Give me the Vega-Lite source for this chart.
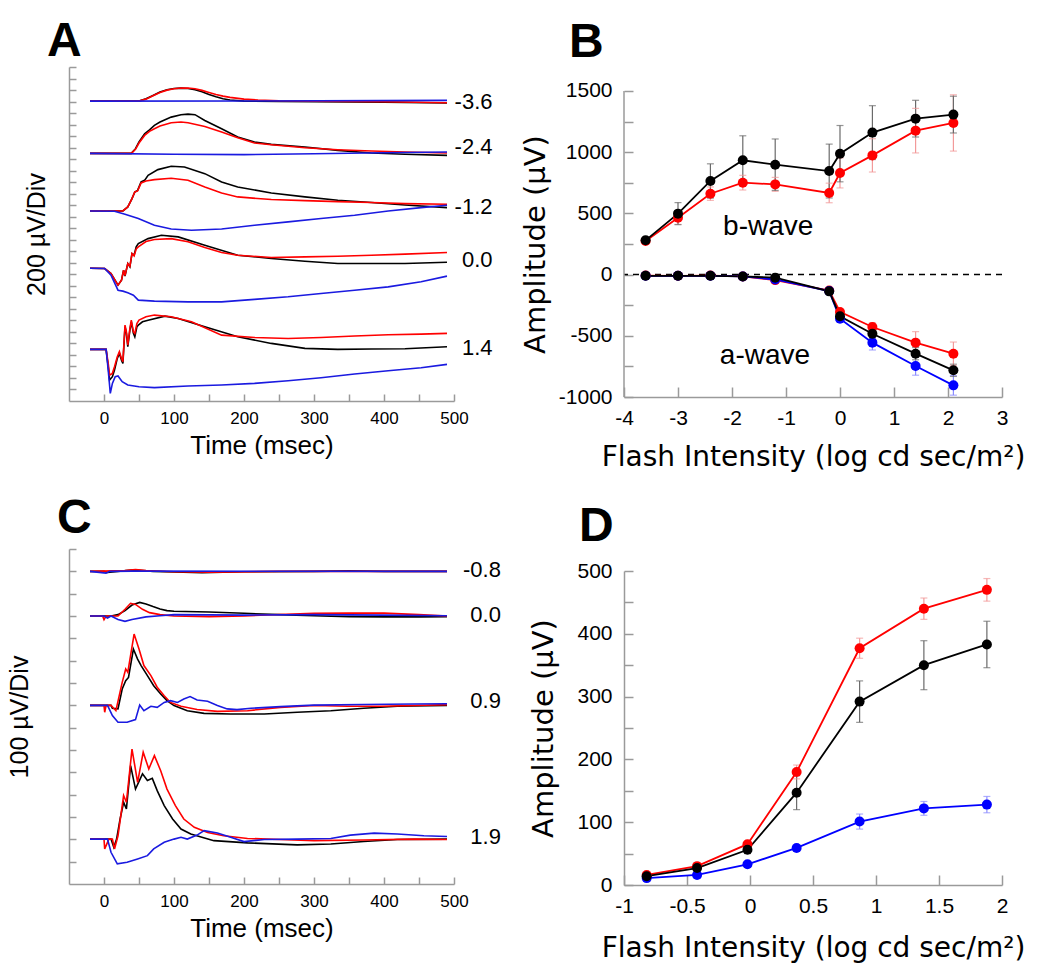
{
"$schema": "https://vega.github.io/schema/vega-lite/v6.json",
"padding": {"left": 7, "top": 18, "right": 5, "bottom": 5},
"background": "white",
"config": {
  "view": {"stroke": null},
  "font": "Liberation Sans",
  "axis": {"grid": false, "domainColor": "#9a9a9a", "tickColor": "#9a9a9a", "domainWidth": 1.5, "tickWidth": 1.5, "labelColor": "#000", "titleColor": "#000", "titleFontWeight": "normal", "labelFont": "Liberation Sans", "titleFont": "Liberation Sans", "labelFlush": false, "labelOverlap": false, "tickCount": 100},
  "title": {"font": "Liberation Sans", "fontWeight": "bold", "fontSize": 48, "anchor": "start", "frame": "group", "baseline": "alphabetic", "color": "#000"}
},
"datasets": {
  "traceA": [
{"i":"-3.6","s":"black","t":-20,"v":26.04},{"i":"-3.6","s":"black","t":50,"v":26.04},{"i":"-3.6","s":"black","t":60,"v":26.24},{"i":"-3.6","s":"black","t":70,"v":26.53},{"i":"-3.6","s":"black","t":80,"v":26.82},{"i":"-3.6","s":"black","t":90,"v":27.02},{"i":"-3.6","s":"black","t":100,"v":27.14},{"i":"-3.6","s":"black","t":110,"v":27.17},{"i":"-3.6","s":"black","t":120,"v":27.14},{"i":"-3.6","s":"black","t":130,"v":27.02},{"i":"-3.6","s":"black","t":140,"v":26.85},{"i":"-3.6","s":"black","t":150,"v":26.62},{"i":"-3.6","s":"black","t":160,"v":26.42},{"i":"-3.6","s":"black","t":170,"v":26.24},{"i":"-3.6","s":"black","t":180,"v":26.13},{"i":"-3.6","s":"black","t":200,"v":26.04},{"i":"-3.6","s":"black","t":250,"v":26.01},{"i":"-3.6","s":"black","t":300,"v":25.98},{"i":"-3.6","s":"black","t":400,"v":25.95},{"i":"-3.6","s":"black","t":490,"v":25.87},
{"i":"-3.6","s":"red","t":-20,"v":26.04},{"i":"-3.6","s":"red","t":50,"v":26.04},{"i":"-3.6","s":"red","t":60,"v":26.21},{"i":"-3.6","s":"red","t":70,"v":26.5},{"i":"-3.6","s":"red","t":80,"v":26.79},{"i":"-3.6","s":"red","t":90,"v":26.99},{"i":"-3.6","s":"red","t":100,"v":27.11},{"i":"-3.6","s":"red","t":110,"v":27.17},{"i":"-3.6","s":"red","t":120,"v":27.17},{"i":"-3.6","s":"red","t":130,"v":27.11},{"i":"-3.6","s":"red","t":140,"v":26.97},{"i":"-3.6","s":"red","t":150,"v":26.79},{"i":"-3.6","s":"red","t":160,"v":26.62},{"i":"-3.6","s":"red","t":170,"v":26.47},{"i":"-3.6","s":"red","t":180,"v":26.36},{"i":"-3.6","s":"red","t":200,"v":26.21},{"i":"-3.6","s":"red","t":220,"v":26.13},{"i":"-3.6","s":"red","t":250,"v":26.07},{"i":"-3.6","s":"red","t":300,"v":26.04},{"i":"-3.6","s":"red","t":400,"v":25.98},{"i":"-3.6","s":"red","t":490,"v":25.9},
{"i":"-3.6","s":"blue","t":-20,"v":26.04},{"i":"-3.6","s":"blue","t":200,"v":26.05},{"i":"-3.6","s":"blue","t":490,"v":26.1},
{"i":"-2.4","s":"black","t":-20,"v":21.5},{"i":"-2.4","s":"black","t":39,"v":21.5},{"i":"-2.4","s":"black","t":45,"v":21.91},{"i":"-2.4","s":"black","t":50,"v":22.49},{"i":"-2.4","s":"black","t":58,"v":23.21},{"i":"-2.4","s":"black","t":65,"v":23.55},{"i":"-2.4","s":"black","t":72,"v":23.93},{"i":"-2.4","s":"black","t":80,"v":24.22},{"i":"-2.4","s":"black","t":96,"v":24.65},{"i":"-2.4","s":"black","t":110,"v":24.86},{"i":"-2.4","s":"black","t":120,"v":24.91},{"i":"-2.4","s":"black","t":130,"v":24.86},{"i":"-2.4","s":"black","t":144,"v":24.36},{"i":"-2.4","s":"black","t":168,"v":23.64},{"i":"-2.4","s":"black","t":191,"v":22.92},{"i":"-2.4","s":"black","t":215,"v":22.49},{"i":"-2.4","s":"black","t":239,"v":22.28},{"i":"-2.4","s":"black","t":287,"v":22.05},{"i":"-2.4","s":"black","t":334,"v":21.76},{"i":"-2.4","s":"black","t":382,"v":21.53},{"i":"-2.4","s":"black","t":430,"v":21.42},{"i":"-2.4","s":"black","t":490,"v":21.33},
{"i":"-2.4","s":"red","t":-20,"v":21.5},{"i":"-2.4","s":"red","t":39,"v":21.5},{"i":"-2.4","s":"red","t":45,"v":21.85},{"i":"-2.4","s":"red","t":50,"v":22.4},{"i":"-2.4","s":"red","t":58,"v":23.06},{"i":"-2.4","s":"red","t":65,"v":23.41},{"i":"-2.4","s":"red","t":72,"v":23.64},{"i":"-2.4","s":"red","t":80,"v":23.87},{"i":"-2.4","s":"red","t":96,"v":24.16},{"i":"-2.4","s":"red","t":110,"v":24.22},{"i":"-2.4","s":"red","t":120,"v":24.16},{"i":"-2.4","s":"red","t":144,"v":23.84},{"i":"-2.4","s":"red","t":168,"v":23.35},{"i":"-2.4","s":"red","t":191,"v":22.86},{"i":"-2.4","s":"red","t":215,"v":22.4},{"i":"-2.4","s":"red","t":239,"v":22.25},{"i":"-2.4","s":"red","t":287,"v":21.99},{"i":"-2.4","s":"red","t":334,"v":21.82},{"i":"-2.4","s":"red","t":382,"v":21.71},{"i":"-2.4","s":"red","t":430,"v":21.62},{"i":"-2.4","s":"red","t":490,"v":21.53},
{"i":"-2.4","s":"blue","t":-20,"v":21.5},{"i":"-2.4","s":"blue","t":100,"v":21.42},{"i":"-2.4","s":"blue","t":200,"v":21.39},{"i":"-2.4","s":"blue","t":300,"v":21.47},{"i":"-2.4","s":"blue","t":400,"v":21.56},{"i":"-2.4","s":"blue","t":490,"v":21.62},
{"i":"-1.2","s":"black","t":-20,"v":16.5},{"i":"-1.2","s":"black","t":27,"v":16.5},{"i":"-1.2","s":"black","t":34,"v":16.85},{"i":"-1.2","s":"black","t":40,"v":17.57},{"i":"-1.2","s":"black","t":44,"v":18.15},{"i":"-1.2","s":"black","t":48,"v":18.29},{"i":"-1.2","s":"black","t":53,"v":19.02},{"i":"-1.2","s":"black","t":58,"v":19.16},{"i":"-1.2","s":"black","t":63,"v":19.6},{"i":"-1.2","s":"black","t":77,"v":20.09},{"i":"-1.2","s":"black","t":96,"v":20.38},{"i":"-1.2","s":"black","t":115,"v":20.32},{"i":"-1.2","s":"black","t":144,"v":19.74},{"i":"-1.2","s":"black","t":168,"v":19.02},{"i":"-1.2","s":"black","t":191,"v":18.58},{"i":"-1.2","s":"black","t":239,"v":18.06},{"i":"-1.2","s":"black","t":287,"v":17.72},{"i":"-1.2","s":"black","t":334,"v":17.43},{"i":"-1.2","s":"black","t":382,"v":17.23},{"i":"-1.2","s":"black","t":430,"v":17.02},{"i":"-1.2","s":"black","t":490,"v":16.79},
{"i":"-1.2","s":"red","t":-20,"v":16.5},{"i":"-1.2","s":"red","t":27,"v":16.5},{"i":"-1.2","s":"red","t":34,"v":16.85},{"i":"-1.2","s":"red","t":40,"v":17.57},{"i":"-1.2","s":"red","t":44,"v":18.15},{"i":"-1.2","s":"red","t":48,"v":18.24},{"i":"-1.2","s":"red","t":53,"v":18.93},{"i":"-1.2","s":"red","t":60,"v":19.1},{"i":"-1.2","s":"red","t":72,"v":19.22},{"i":"-1.2","s":"red","t":96,"v":19.34},{"i":"-1.2","s":"red","t":120,"v":19.16},{"i":"-1.2","s":"red","t":144,"v":18.58},{"i":"-1.2","s":"red","t":168,"v":18.06},{"i":"-1.2","s":"red","t":191,"v":17.72},{"i":"-1.2","s":"red","t":239,"v":17.49},{"i":"-1.2","s":"red","t":287,"v":17.4},{"i":"-1.2","s":"red","t":334,"v":17.31},{"i":"-1.2","s":"red","t":382,"v":17.23},{"i":"-1.2","s":"red","t":430,"v":17.14},{"i":"-1.2","s":"red","t":490,"v":17.08},
{"i":"-1.2","s":"blue","t":-20,"v":16.5},{"i":"-1.2","s":"blue","t":15,"v":16.47},{"i":"-1.2","s":"blue","t":30,"v":16.21},{"i":"-1.2","s":"blue","t":49,"v":15.84},{"i":"-1.2","s":"blue","t":72,"v":15.26},{"i":"-1.2","s":"blue","t":96,"v":14.94},{"i":"-1.2","s":"blue","t":125,"v":14.83},{"i":"-1.2","s":"blue","t":168,"v":14.94},{"i":"-1.2","s":"blue","t":215,"v":15.26},{"i":"-1.2","s":"blue","t":263,"v":15.55},{"i":"-1.2","s":"blue","t":310,"v":15.84},{"i":"-1.2","s":"blue","t":358,"v":16.13},{"i":"-1.2","s":"blue","t":406,"v":16.5},{"i":"-1.2","s":"blue","t":453,"v":16.79},{"i":"-1.2","s":"blue","t":490,"v":16.99},
{"i":"0.0","s":"black","t":-20,"v":11.53},{"i":"0.0","s":"black","t":1,"v":11.5},{"i":"0.0","s":"black","t":10,"v":11.07},{"i":"0.0","s":"black","t":20,"v":10.06},{"i":"0.0","s":"black","t":25,"v":10.49},{"i":"0.0","s":"black","t":28,"v":11.36},{"i":"0.0","s":"black","t":30,"v":10.84},{"i":"0.0","s":"black","t":34,"v":11.94},{"i":"0.0","s":"black","t":37,"v":11.65},{"i":"0.0","s":"black","t":40,"v":12.8},{"i":"0.0","s":"black","t":43,"v":12.66},{"i":"0.0","s":"black","t":46,"v":13.38},{"i":"0.0","s":"black","t":49,"v":13.67},{"i":"0.0","s":"black","t":63,"v":14.1},{"i":"0.0","s":"black","t":82,"v":14.39},{"i":"0.0","s":"black","t":106,"v":14.25},{"i":"0.0","s":"black","t":144,"v":13.53},{"i":"0.0","s":"black","t":191,"v":12.66},{"i":"0.0","s":"black","t":239,"v":12.37},{"i":"0.0","s":"black","t":287,"v":12.14},{"i":"0.0","s":"black","t":334,"v":11.94},{"i":"0.0","s":"black","t":382,"v":11.94},{"i":"0.0","s":"black","t":430,"v":11.94},{"i":"0.0","s":"black","t":490,"v":12.05},
{"i":"0.0","s":"red","t":-20,"v":11.53},{"i":"0.0","s":"red","t":1,"v":11.5},{"i":"0.0","s":"red","t":10,"v":11.07},{"i":"0.0","s":"red","t":20,"v":10.06},{"i":"0.0","s":"red","t":25,"v":10.49},{"i":"0.0","s":"red","t":28,"v":11.36},{"i":"0.0","s":"red","t":30,"v":10.9},{"i":"0.0","s":"red","t":34,"v":11.94},{"i":"0.0","s":"red","t":37,"v":11.7},{"i":"0.0","s":"red","t":40,"v":12.8},{"i":"0.0","s":"red","t":43,"v":12.6},{"i":"0.0","s":"red","t":46,"v":13.2},{"i":"0.0","s":"red","t":49,"v":13.38},{"i":"0.0","s":"red","t":60,"v":13.85},{"i":"0.0","s":"red","t":72,"v":14.02},{"i":"0.0","s":"red","t":96,"v":14.1},{"i":"0.0","s":"red","t":120,"v":13.82},{"i":"0.0","s":"red","t":144,"v":13.32},{"i":"0.0","s":"red","t":168,"v":12.89},{"i":"0.0","s":"red","t":191,"v":12.66},{"i":"0.0","s":"red","t":239,"v":12.46},{"i":"0.0","s":"red","t":287,"v":12.51},{"i":"0.0","s":"red","t":334,"v":12.57},{"i":"0.0","s":"red","t":382,"v":12.66},{"i":"0.0","s":"red","t":430,"v":12.75},{"i":"0.0","s":"red","t":490,"v":12.89},
{"i":"0.0","s":"blue","t":-20,"v":11.53},{"i":"0.0","s":"blue","t":1,"v":11.5},{"i":"0.0","s":"blue","t":10,"v":10.92},{"i":"0.0","s":"blue","t":20,"v":9.62},{"i":"0.0","s":"blue","t":27,"v":9.54},{"i":"0.0","s":"blue","t":34,"v":9.39},{"i":"0.0","s":"blue","t":42,"v":9.19},{"i":"0.0","s":"blue","t":49,"v":8.76},{"i":"0.0","s":"blue","t":72,"v":8.67},{"i":"0.0","s":"blue","t":120,"v":8.61},{"i":"0.0","s":"blue","t":168,"v":8.61},{"i":"0.0","s":"blue","t":215,"v":8.82},{"i":"0.0","s":"blue","t":263,"v":9.05},{"i":"0.0","s":"blue","t":310,"v":9.34},{"i":"0.0","s":"blue","t":358,"v":9.62},{"i":"0.0","s":"blue","t":406,"v":9.91},{"i":"0.0","s":"blue","t":453,"v":10.35},{"i":"0.0","s":"blue","t":490,"v":10.84},
{"i":"1.4","s":"black","t":-20,"v":4.48},{"i":"1.4","s":"black","t":3,"v":4.48},{"i":"1.4","s":"black","t":6,"v":2.98},{"i":"1.4","s":"black","t":8,"v":1.82},{"i":"1.4","s":"black","t":12,"v":2.11},{"i":"1.4","s":"black","t":15,"v":2.69},{"i":"1.4","s":"black","t":19,"v":3.7},{"i":"1.4","s":"black","t":22,"v":4.13},{"i":"1.4","s":"black","t":25,"v":3.55},{"i":"1.4","s":"black","t":27,"v":3.27},{"i":"1.4","s":"black","t":30,"v":6.45},{"i":"1.4","s":"black","t":32,"v":5.87},{"i":"1.4","s":"black","t":34,"v":4.71},{"i":"1.4","s":"black","t":37,"v":6.16},{"i":"1.4","s":"black","t":39,"v":6.88},{"i":"1.4","s":"black","t":42,"v":5.87},{"i":"1.4","s":"black","t":44,"v":5.58},{"i":"1.4","s":"black","t":47,"v":6.45},{"i":"1.4","s":"black","t":49,"v":6.59},{"i":"1.4","s":"black","t":55,"v":6.88},{"i":"1.4","s":"black","t":63,"v":7.02},{"i":"1.4","s":"black","t":87,"v":7.37},{"i":"1.4","s":"black","t":106,"v":7.17},{"i":"1.4","s":"black","t":144,"v":6.45},{"i":"1.4","s":"black","t":191,"v":5.58},{"i":"1.4","s":"black","t":239,"v":5.0},{"i":"1.4","s":"black","t":287,"v":4.57},{"i":"1.4","s":"black","t":334,"v":4.48},{"i":"1.4","s":"black","t":382,"v":4.51},{"i":"1.4","s":"black","t":430,"v":4.54},{"i":"1.4","s":"black","t":490,"v":4.71},
{"i":"1.4","s":"red","t":-20,"v":4.48},{"i":"1.4","s":"red","t":3,"v":4.48},{"i":"1.4","s":"red","t":6,"v":3.27},{"i":"1.4","s":"red","t":8,"v":2.25},{"i":"1.4","s":"red","t":12,"v":2.4},{"i":"1.4","s":"red","t":15,"v":2.98},{"i":"1.4","s":"red","t":19,"v":3.84},{"i":"1.4","s":"red","t":22,"v":4.28},{"i":"1.4","s":"red","t":25,"v":3.7},{"i":"1.4","s":"red","t":27,"v":3.41},{"i":"1.4","s":"red","t":30,"v":6.59},{"i":"1.4","s":"red","t":32,"v":6.01},{"i":"1.4","s":"red","t":34,"v":4.86},{"i":"1.4","s":"red","t":37,"v":6.3},{"i":"1.4","s":"red","t":39,"v":7.02},{"i":"1.4","s":"red","t":42,"v":6.01},{"i":"1.4","s":"red","t":44,"v":5.87},{"i":"1.4","s":"red","t":47,"v":6.73},{"i":"1.4","s":"red","t":50,"v":7.02},{"i":"1.4","s":"red","t":60,"v":7.31},{"i":"1.4","s":"red","t":72,"v":7.46},{"i":"1.4","s":"red","t":96,"v":7.31},{"i":"1.4","s":"red","t":125,"v":6.88},{"i":"1.4","s":"red","t":168,"v":5.72},{"i":"1.4","s":"red","t":215,"v":5.52},{"i":"1.4","s":"red","t":263,"v":5.43},{"i":"1.4","s":"red","t":310,"v":5.52},{"i":"1.4","s":"red","t":358,"v":5.64},{"i":"1.4","s":"red","t":406,"v":5.75},{"i":"1.4","s":"red","t":453,"v":5.81},{"i":"1.4","s":"red","t":490,"v":5.87},
{"i":"1.4","s":"blue","t":-20,"v":4.48},{"i":"1.4","s":"blue","t":3,"v":4.48},{"i":"1.4","s":"blue","t":6,"v":2.69},{"i":"1.4","s":"blue","t":9,"v":0.66},{"i":"1.4","s":"blue","t":12,"v":1.53},{"i":"1.4","s":"blue","t":16,"v":2.11},{"i":"1.4","s":"blue","t":20,"v":2.17},{"i":"1.4","s":"blue","t":26,"v":1.68},{"i":"1.4","s":"blue","t":34,"v":1.39},{"i":"1.4","s":"blue","t":50,"v":1.24},{"i":"1.4","s":"blue","t":72,"v":1.16},{"i":"1.4","s":"blue","t":120,"v":1.3},{"i":"1.4","s":"blue","t":168,"v":1.39},{"i":"1.4","s":"blue","t":215,"v":1.53},{"i":"1.4","s":"blue","t":263,"v":1.76},{"i":"1.4","s":"blue","t":310,"v":2.02},{"i":"1.4","s":"blue","t":358,"v":2.34},{"i":"1.4","s":"blue","t":406,"v":2.63},{"i":"1.4","s":"blue","t":453,"v":2.89},{"i":"1.4","s":"blue","t":490,"v":3.18}
  ],
  "labA": [
{"i":"-3.6","t":555,"v":25.95},{"i":"-2.4","t":555,"v":22.05},{"i":"-1.2","t":555,"v":16.85},{"i":"0.0","t":555,"v":12.28},{"i":"1.4","t":555,"v":4.62}
  ],
  "traceC": [
{"i":"-0.8","s":"black","t":-20,"v":14.0},{"i":"-0.8","s":"black","t":0,"v":14.0},{"i":"-0.8","s":"black","t":5,"v":13.95},{"i":"-0.8","s":"black","t":20,"v":14.0},{"i":"-0.8","s":"black","t":40,"v":14.06},{"i":"-0.8","s":"black","t":50,"v":14.05},{"i":"-0.8","s":"black","t":70,"v":14.0},{"i":"-0.8","s":"black","t":100,"v":13.97},{"i":"-0.8","s":"black","t":140,"v":13.94},{"i":"-0.8","s":"black","t":200,"v":13.98},{"i":"-0.8","s":"black","t":300,"v":14.0},{"i":"-0.8","s":"black","t":350,"v":14.02},{"i":"-0.8","s":"black","t":400,"v":14.0},{"i":"-0.8","s":"black","t":490,"v":14.0},
{"i":"-0.8","s":"red","t":-20,"v":14.0},{"i":"-0.8","s":"red","t":30,"v":14.03},{"i":"-0.8","s":"red","t":45,"v":14.08},{"i":"-0.8","s":"red","t":60,"v":14.03},{"i":"-0.8","s":"red","t":100,"v":13.98},{"i":"-0.8","s":"red","t":150,"v":13.96},{"i":"-0.8","s":"red","t":250,"v":14.0},{"i":"-0.8","s":"red","t":490,"v":14.0},
{"i":"-0.8","s":"blue","t":-20,"v":14.0},{"i":"-0.8","s":"blue","t":3,"v":13.92},{"i":"-0.8","s":"blue","t":8,"v":14.0},{"i":"-0.8","s":"blue","t":40,"v":14.01},{"i":"-0.8","s":"blue","t":490,"v":14.0},
{"i":"0.0","s":"black","t":-20,"v":12.0},{"i":"0.0","s":"black","t":10,"v":12.0},{"i":"0.0","s":"black","t":20,"v":12.06},{"i":"0.0","s":"black","t":30,"v":12.24},{"i":"0.0","s":"black","t":40,"v":12.49},{"i":"0.0","s":"black","t":51,"v":12.61},{"i":"0.0","s":"black","t":60,"v":12.54},{"i":"0.0","s":"black","t":70,"v":12.42},{"i":"0.0","s":"black","t":80,"v":12.31},{"i":"0.0","s":"black","t":90,"v":12.24},{"i":"0.0","s":"black","t":100,"v":12.21},{"i":"0.0","s":"black","t":150,"v":12.18},{"i":"0.0","s":"black","t":200,"v":12.12},{"i":"0.0","s":"black","t":250,"v":12.06},{"i":"0.0","s":"black","t":300,"v":12.01},{"i":"0.0","s":"black","t":350,"v":11.97},{"i":"0.0","s":"black","t":400,"v":11.96},{"i":"0.0","s":"black","t":450,"v":11.96},{"i":"0.0","s":"black","t":490,"v":11.97},
{"i":"0.0","s":"red","t":-20,"v":12.0},{"i":"0.0","s":"red","t":-2,"v":12.0},{"i":"0.0","s":"red","t":0,"v":11.84},{"i":"0.0","s":"red","t":3,"v":12.0},{"i":"0.0","s":"red","t":20,"v":12.0},{"i":"0.0","s":"red","t":30,"v":12.3},{"i":"0.0","s":"red","t":38,"v":12.57},{"i":"0.0","s":"red","t":45,"v":12.52},{"i":"0.0","s":"red","t":55,"v":12.3},{"i":"0.0","s":"red","t":65,"v":12.15},{"i":"0.0","s":"red","t":80,"v":12.06},{"i":"0.0","s":"red","t":100,"v":12.0},{"i":"0.0","s":"red","t":150,"v":11.97},{"i":"0.0","s":"red","t":200,"v":12.0},{"i":"0.0","s":"red","t":250,"v":12.07},{"i":"0.0","s":"red","t":300,"v":12.12},{"i":"0.0","s":"red","t":350,"v":12.13},{"i":"0.0","s":"red","t":400,"v":12.13},{"i":"0.0","s":"red","t":450,"v":12.06},{"i":"0.0","s":"red","t":490,"v":12.0},
{"i":"0.0","s":"blue","t":-20,"v":12.0},{"i":"0.0","s":"blue","t":0,"v":12.0},{"i":"0.0","s":"blue","t":5,"v":11.91},{"i":"0.0","s":"blue","t":10,"v":12.0},{"i":"0.0","s":"blue","t":20,"v":11.84},{"i":"0.0","s":"blue","t":30,"v":11.76},{"i":"0.0","s":"blue","t":40,"v":11.84},{"i":"0.0","s":"blue","t":60,"v":11.96},{"i":"0.0","s":"blue","t":80,"v":12.01},{"i":"0.0","s":"blue","t":100,"v":12.06},{"i":"0.0","s":"blue","t":200,"v":12.04},{"i":"0.0","s":"blue","t":300,"v":12.06},{"i":"0.0","s":"blue","t":400,"v":12.04},{"i":"0.0","s":"blue","t":490,"v":12.01},
{"i":"0.9","s":"black","t":-20,"v":8.0},{"i":"0.9","s":"black","t":10,"v":8.0},{"i":"0.9","s":"black","t":12,"v":7.87},{"i":"0.9","s":"black","t":20,"v":7.84},{"i":"0.9","s":"black","t":26,"v":8.73},{"i":"0.9","s":"black","t":31,"v":9.1},{"i":"0.9","s":"black","t":35,"v":9.25},{"i":"0.9","s":"black","t":42,"v":10.52},{"i":"0.9","s":"black","t":48,"v":10.07},{"i":"0.9","s":"black","t":53,"v":9.78},{"i":"0.9","s":"black","t":62,"v":9.33},{"i":"0.9","s":"black","t":71,"v":8.88},{"i":"0.9","s":"black","t":81,"v":8.51},{"i":"0.9","s":"black","t":90,"v":8.21},{"i":"0.9","s":"black","t":100,"v":7.99},{"i":"0.9","s":"black","t":119,"v":7.76},{"i":"0.9","s":"black","t":143,"v":7.64},{"i":"0.9","s":"black","t":181,"v":7.61},{"i":"0.9","s":"black","t":229,"v":7.61},{"i":"0.9","s":"black","t":276,"v":7.69},{"i":"0.9","s":"black","t":324,"v":7.76},{"i":"0.9","s":"black","t":371,"v":7.87},{"i":"0.9","s":"black","t":419,"v":7.96},{"i":"0.9","s":"black","t":490,"v":7.99},
{"i":"0.9","s":"red","t":-20,"v":8.0},{"i":"0.9","s":"red","t":0,"v":8.0},{"i":"0.9","s":"red","t":1,"v":7.69},{"i":"0.9","s":"red","t":3,"v":8.0},{"i":"0.9","s":"red","t":10,"v":8.0},{"i":"0.9","s":"red","t":17,"v":7.76},{"i":"0.9","s":"red","t":26,"v":9.03},{"i":"0.9","s":"red","t":31,"v":9.63},{"i":"0.9","s":"red","t":34,"v":9.48},{"i":"0.9","s":"red","t":43,"v":11.19},{"i":"0.9","s":"red","t":50,"v":10.52},{"i":"0.9","s":"red","t":57,"v":9.78},{"i":"0.9","s":"red","t":67,"v":9.33},{"i":"0.9","s":"red","t":76,"v":8.81},{"i":"0.9","s":"red","t":86,"v":8.43},{"i":"0.9","s":"red","t":95,"v":8.13},{"i":"0.9","s":"red","t":110,"v":7.96},{"i":"0.9","s":"red","t":133,"v":7.81},{"i":"0.9","s":"red","t":162,"v":7.73},{"i":"0.9","s":"red","t":205,"v":7.76},{"i":"0.9","s":"red","t":252,"v":7.91},{"i":"0.9","s":"red","t":300,"v":7.99},{"i":"0.9","s":"red","t":348,"v":7.96},{"i":"0.9","s":"red","t":395,"v":7.96},{"i":"0.9","s":"red","t":443,"v":7.99},{"i":"0.9","s":"red","t":490,"v":8.03},
{"i":"0.9","s":"blue","t":-20,"v":8.0},{"i":"0.9","s":"blue","t":5,"v":8.0},{"i":"0.9","s":"blue","t":12,"v":7.54},{"i":"0.9","s":"blue","t":20,"v":7.24},{"i":"0.9","s":"blue","t":33,"v":7.24},{"i":"0.9","s":"blue","t":45,"v":7.36},{"i":"0.9","s":"blue","t":51,"v":8.01},{"i":"0.9","s":"blue","t":57,"v":7.76},{"i":"0.9","s":"blue","t":67,"v":7.96},{"i":"0.9","s":"blue","t":76,"v":7.91},{"i":"0.9","s":"blue","t":86,"v":8.13},{"i":"0.9","s":"blue","t":95,"v":8.21},{"i":"0.9","s":"blue","t":105,"v":8.13},{"i":"0.9","s":"blue","t":114,"v":8.28},{"i":"0.9","s":"blue","t":123,"v":8.39},{"i":"0.9","s":"blue","t":133,"v":8.24},{"i":"0.9","s":"blue","t":148,"v":8.18},{"i":"0.9","s":"blue","t":162,"v":7.99},{"i":"0.9","s":"blue","t":176,"v":7.84},{"i":"0.9","s":"blue","t":190,"v":7.81},{"i":"0.9","s":"blue","t":210,"v":7.87},{"i":"0.9","s":"blue","t":252,"v":7.94},{"i":"0.9","s":"blue","t":300,"v":8.01},{"i":"0.9","s":"blue","t":371,"v":8.04},{"i":"0.9","s":"blue","t":443,"v":8.06},{"i":"0.9","s":"blue","t":490,"v":8.07},
{"i":"1.9","s":"black","t":-20,"v":2.01},{"i":"1.9","s":"black","t":10,"v":2.01},{"i":"1.9","s":"black","t":14,"v":1.64},{"i":"1.9","s":"black","t":18,"v":2.01},{"i":"1.9","s":"black","t":23,"v":2.91},{"i":"1.9","s":"black","t":28,"v":3.66},{"i":"1.9","s":"black","t":32,"v":3.36},{"i":"1.9","s":"black","t":38,"v":5.3},{"i":"1.9","s":"black","t":45,"v":4.25},{"i":"1.9","s":"black","t":55,"v":4.93},{"i":"1.9","s":"black","t":62,"v":4.63},{"i":"1.9","s":"black","t":69,"v":4.73},{"i":"1.9","s":"black","t":76,"v":4.18},{"i":"1.9","s":"black","t":86,"v":3.51},{"i":"1.9","s":"black","t":98,"v":2.91},{"i":"1.9","s":"black","t":110,"v":2.46},{"i":"1.9","s":"black","t":124,"v":2.24},{"i":"1.9","s":"black","t":157,"v":1.94},{"i":"1.9","s":"black","t":205,"v":1.84},{"i":"1.9","s":"black","t":276,"v":1.75},{"i":"1.9","s":"black","t":324,"v":1.79},{"i":"1.9","s":"black","t":371,"v":1.9},{"i":"1.9","s":"black","t":419,"v":1.99},{"i":"1.9","s":"black","t":490,"v":2.01},
{"i":"1.9","s":"red","t":-20,"v":2.01},{"i":"1.9","s":"red","t":0,"v":2.01},{"i":"1.9","s":"red","t":1,"v":1.57},{"i":"1.9","s":"red","t":7,"v":2.01},{"i":"1.9","s":"red","t":12,"v":2.01},{"i":"1.9","s":"red","t":15,"v":1.57},{"i":"1.9","s":"red","t":20,"v":2.16},{"i":"1.9","s":"red","t":28,"v":3.96},{"i":"1.9","s":"red","t":32,"v":3.66},{"i":"1.9","s":"red","t":40,"v":6.04},{"i":"1.9","s":"red","t":48,"v":4.55},{"i":"1.9","s":"red","t":56,"v":5.9},{"i":"1.9","s":"red","t":64,"v":5.15},{"i":"1.9","s":"red","t":72,"v":5.75},{"i":"1.9","s":"red","t":81,"v":5.07},{"i":"1.9","s":"red","t":90,"v":4.25},{"i":"1.9","s":"red","t":102,"v":3.51},{"i":"1.9","s":"red","t":114,"v":2.91},{"i":"1.9","s":"red","t":129,"v":2.54},{"i":"1.9","s":"red","t":148,"v":2.31},{"i":"1.9","s":"red","t":171,"v":2.16},{"i":"1.9","s":"red","t":205,"v":2.04},{"i":"1.9","s":"red","t":252,"v":1.99},{"i":"1.9","s":"red","t":300,"v":1.94},{"i":"1.9","s":"red","t":371,"v":1.97},{"i":"1.9","s":"red","t":443,"v":2.01},{"i":"1.9","s":"red","t":490,"v":1.99},
{"i":"1.9","s":"blue","t":-20,"v":2.01},{"i":"1.9","s":"blue","t":5,"v":2.01},{"i":"1.9","s":"blue","t":10,"v":1.42},{"i":"1.9","s":"blue","t":19,"v":0.9},{"i":"1.9","s":"blue","t":33,"v":0.97},{"i":"1.9","s":"blue","t":48,"v":1.12},{"i":"1.9","s":"blue","t":62,"v":1.27},{"i":"1.9","s":"blue","t":71,"v":1.57},{"i":"1.9","s":"blue","t":86,"v":1.87},{"i":"1.9","s":"blue","t":100,"v":2.01},{"i":"1.9","s":"blue","t":110,"v":2.09},{"i":"1.9","s":"blue","t":119,"v":2.01},{"i":"1.9","s":"blue","t":133,"v":2.19},{"i":"1.9","s":"blue","t":143,"v":2.39},{"i":"1.9","s":"blue","t":162,"v":2.28},{"i":"1.9","s":"blue","t":181,"v":2.09},{"i":"1.9","s":"blue","t":200,"v":1.9},{"i":"1.9","s":"blue","t":229,"v":1.99},{"i":"1.9","s":"blue","t":276,"v":2.01},{"i":"1.9","s":"blue","t":324,"v":2.04},{"i":"1.9","s":"blue","t":352,"v":2.19},{"i":"1.9","s":"blue","t":386,"v":2.28},{"i":"1.9","s":"blue","t":419,"v":2.24},{"i":"1.9","s":"blue","t":457,"v":2.16},{"i":"1.9","s":"blue","t":490,"v":2.13}
  ],
  "labC": [
{"i":"-0.8","t":567,"v":14.06},{"i":"0.0","t":567,"v":12.06},{"i":"0.9","t":567,"v":8.18},{"i":"1.9","t":567,"v":2.12}
  ],
  "ptB": [
{"w":"b","s":"red","x":-3.6,"y":275,"lo":255,"hi":295},{"w":"b","s":"red","x":-3.0,"y":465,"lo":410,"hi":520},{"w":"b","s":"red","x":-2.4,"y":661,"lo":606,"hi":716},{"w":"b","s":"red","x":-1.8,"y":751,"lo":691,"hi":811},{"w":"b","s":"red","x":-1.2,"y":737,"lo":680,"hi":794},{"w":"b","s":"red","x":-0.2,"y":667,"lo":587,"hi":747},{"w":"b","s":"red","x":0.0,"y":830,"lo":708,"hi":952},{"w":"b","s":"red","x":0.6,"y":974,"lo":838,"hi":1110},{"w":"b","s":"red","x":1.4,"y":1176,"lo":994,"hi":1358},{"w":"b","s":"red","x":2.1,"y":1239,"lo":1009,"hi":1469},
{"w":"a","s":"red","x":-3.6,"y":-8,"lo":-8,"hi":-8},{"w":"a","s":"red","x":-3.0,"y":-10,"lo":-10,"hi":-10},{"w":"a","s":"red","x":-2.4,"y":-8,"lo":-8,"hi":-8},{"w":"a","s":"red","x":-1.8,"y":-15,"lo":-15,"hi":-15},{"w":"a","s":"red","x":-1.2,"y":-45,"lo":-53,"hi":-37},{"w":"a","s":"red","x":-0.2,"y":-130,"lo":-145,"hi":-115},{"w":"a","s":"red","x":0.0,"y":-305,"lo":-325,"hi":-285},{"w":"a","s":"red","x":0.6,"y":-428,"lo":-463,"hi":-393},{"w":"a","s":"red","x":1.4,"y":-556,"lo":-646,"hi":-466},{"w":"a","s":"red","x":2.1,"y":-646,"lo":-741,"hi":-551},
{"w":"a","s":"blue","x":-3.6,"y":-10,"lo":-10,"hi":-10},{"w":"a","s":"blue","x":-3.0,"y":-10,"lo":-10,"hi":-10},{"w":"a","s":"blue","x":-2.4,"y":-10,"lo":-10,"hi":-10},{"w":"a","s":"blue","x":-1.8,"y":-15,"lo":-15,"hi":-15},{"w":"a","s":"blue","x":-1.2,"y":-40,"lo":-46,"hi":-34},{"w":"a","s":"blue","x":-0.2,"y":-135,"lo":-145,"hi":-125},{"w":"a","s":"blue","x":0.0,"y":-360,"lo":-380,"hi":-340},{"w":"a","s":"blue","x":0.6,"y":-556,"lo":-616,"hi":-496},{"w":"a","s":"blue","x":1.4,"y":-747,"lo":-822,"hi":-672},{"w":"a","s":"blue","x":2.1,"y":-905,"lo":-985,"hi":-825},
{"w":"b","s":"black","x":-3.6,"y":280,"lo":255,"hi":305},{"w":"b","s":"black","x":-3.0,"y":498,"lo":408,"hi":588},{"w":"b","s":"black","x":-2.4,"y":765,"lo":625,"hi":905},{"w":"b","s":"black","x":-1.8,"y":934,"lo":734,"hi":1134},{"w":"b","s":"black","x":-1.2,"y":898,"lo":688,"hi":1108},{"w":"b","s":"black","x":-0.2,"y":846,"lo":626,"hi":1066},{"w":"b","s":"black","x":0.0,"y":988,"lo":758,"hi":1218},{"w":"b","s":"black","x":0.6,"y":1160,"lo":940,"hi":1380},{"w":"b","s":"black","x":1.4,"y":1274,"lo":1124,"hi":1424},{"w":"b","s":"black","x":2.1,"y":1307,"lo":1157,"hi":1457},
{"w":"a","s":"black","x":-3.6,"y":-10,"lo":-10,"hi":-10},{"w":"a","s":"black","x":-3.0,"y":-10,"lo":-10,"hi":-10},{"w":"a","s":"black","x":-2.4,"y":-10,"lo":-10,"hi":-10},{"w":"a","s":"black","x":-1.8,"y":-15,"lo":-15,"hi":-15},{"w":"a","s":"black","x":-1.2,"y":-25,"lo":-30,"hi":-20},{"w":"a","s":"black","x":-0.2,"y":-137,"lo":-147,"hi":-127},{"w":"a","s":"black","x":0.0,"y":-341,"lo":-361,"hi":-321},{"w":"a","s":"black","x":0.6,"y":-483,"lo":-523,"hi":-443},{"w":"a","s":"black","x":1.4,"y":-646,"lo":-696,"hi":-596},{"w":"a","s":"black","x":2.1,"y":-782,"lo":-832,"hi":-732}
  ],
  "labB": [
{"x":-1.33,"y":326,"t":"b-wave"},{"x":-1.39,"y":-728,"t":"a-wave"}
  ],
  "ptD": [
{"s":"red","x":-0.82,"y":16,"lo":13,"hi":19},{"s":"red","x":-0.42,"y":30,"lo":26,"hi":34},{"s":"red","x":-0.02,"y":65,"lo":60,"hi":70},{"s":"red","x":0.37,"y":180,"lo":169,"hi":191},{"s":"red","x":0.87,"y":377,"lo":361,"hi":393},{"s":"red","x":1.38,"y":440,"lo":423,"hi":457},{"s":"red","x":1.88,"y":470,"lo":452,"hi":488},
{"s":"blue","x":-0.82,"y":11,"lo":9,"hi":13},{"s":"blue","x":-0.42,"y":16,"lo":13,"hi":19},{"s":"blue","x":-0.02,"y":33,"lo":29,"hi":37},{"s":"blue","x":0.37,"y":59,"lo":54,"hi":64},{"s":"blue","x":0.87,"y":101,"lo":89,"hi":113},{"s":"blue","x":1.38,"y":122,"lo":111,"hi":133},{"s":"blue","x":1.88,"y":128,"lo":115,"hi":141},
{"s":"black","x":-0.82,"y":14,"lo":11,"hi":17},{"s":"black","x":-0.42,"y":27,"lo":23,"hi":31},{"s":"black","x":-0.02,"y":56,"lo":50,"hi":62},{"s":"black","x":0.37,"y":147,"lo":120,"hi":174},{"s":"black","x":0.87,"y":292,"lo":259,"hi":325},{"s":"black","x":1.38,"y":350,"lo":311,"hi":389},{"s":"black","x":1.88,"y":383,"lo":346,"hi":420}
  ]
},
"spacing": 20,
"hconcat": [
 {"spacing": 37, "vconcat": [
  {"title": {"text": "A", "dx": -22, "offset": 0},
   "width": 385, "height": 334,
   "layer": [
    {"data": {"name": "traceA"},
     "mark": {"type": "line", "strokeWidth": 1.6},
     "encoding": {
       "x": {"field": "t", "type": "quantitative", "scale": {"domain": [-50, 500], "nice": false, "zero": false},
             "axis": {"values": [0,50,100,150,200,250,300,350,400,450,500], "tickCount": 100, "labelExpr": "datum.value % 100 === 0 ? datum.label : ''", "tickSize": -7, "labelPadding": 16, "labelFontSize": 17, "title": "Time (msec)", "titleFontSize": 26, "titlePadding": 6}},
       "y": {"field": "v", "type": "quantitative", "scale": {"domain": [0, 29], "nice": false, "zero": false},
             "axis": {"values": [1,2,3,4,5,6,7,8,9,10,11,12,13,14,15,16,17,18,19,20,21,22,23,24,25,26,27,28,29], "tickCount": 100, "labels": false, "tickSize": -7, "title": "200 µV/Div", "titleFontSize": 25, "titlePadding": 19}},
       "color": {"field": "s", "type": "nominal", "scale": {"domain": ["black", "red", "blue"], "range": ["#000000", "#ff0000", "#1a1ae0"]}, "legend": null},
       "detail": {"field": "i"}
     }},
    {"data": {"name": "labA"},
     "mark": {"type": "text", "align": "right", "baseline": "middle", "fontSize": 22, "font": "Liberation Sans"},
     "encoding": {
       "x": {"field": "t", "type": "quantitative", "scale": {"domain": [-50, 500], "nice": false, "zero": false}},
       "y": {"field": "v", "type": "quantitative", "scale": {"domain": [0, 29], "nice": false, "zero": false}},
       "text": {"field": "i"}
     }}
   ]},
  {"title": {"text": "C", "dx": -12, "offset": 5},
   "width": 385, "height": 335,
   "layer": [
    {"data": {"name": "traceC"},
     "mark": {"type": "line", "strokeWidth": 1.6},
     "encoding": {
       "x": {"field": "t", "type": "quantitative", "scale": {"domain": [-50, 500], "nice": false, "zero": false},
             "axis": {"values": [0,50,100,150,200,250,300,350,400,450,500], "tickCount": 100, "labelExpr": "datum.value % 100 === 0 ? datum.label : ''", "tickSize": -7, "labelPadding": 16, "labelFontSize": 17, "title": "Time (msec)", "titleFontSize": 26, "titlePadding": 6}},
       "y": {"field": "v", "type": "quantitative", "scale": {"domain": [0, 15], "nice": false, "zero": false},
             "axis": {"values": [1,2,3,4,5,6,7,8,9,10,11,12,13,14,15], "tickCount": 100, "labels": false, "tickSize": -7, "title": "100 µV/Div", "titleFontSize": 25, "titlePadding": 36}},
       "color": {"field": "s", "type": "nominal", "scale": {"domain": ["black", "red", "blue"], "range": ["#000000", "#ff0000", "#1a1ae0"]}, "legend": null},
       "detail": {"field": "i"}
     }},
    {"data": {"name": "labC"},
     "mark": {"type": "text", "align": "right", "baseline": "middle", "fontSize": 22, "font": "Liberation Sans"},
     "encoding": {
       "x": {"field": "t", "type": "quantitative", "scale": {"domain": [-50, 500], "nice": false, "zero": false}},
       "y": {"field": "v", "type": "quantitative", "scale": {"domain": [0, 15], "nice": false, "zero": false}},
       "text": {"field": "i"}
     }}
   ]}
 ]},
 {"spacing": 32, "vconcat": [
  {"title": {"text": "B", "dx": -55, "offset": 0},
   "width": 378, "height": 330,
   "resolve": {"scale": {"color": "independent"}},
   "layer": [
    {"data": {"values": [{"z": 0}]},
     "mark": {"type": "rule", "strokeDash": [6, 5], "strokeWidth": 1.5, "color": "#000"},
     "encoding": {"y": {"field": "z", "type": "quantitative", "title": "Amplitude (µV)", "scale": {"domain": [-1000, 1696], "nice": false, "zero": false},
        "axis": {"values": [-1000,-750,-500,-250,0,250,500,750,1000,1250,1500], "tickCount": 100, "domain": false, "labelExpr": "datum.value % 500 === 0 ? toString(datum.value) : ''", "tickSize": -9, "labelPadding": 21, "labelFontSize": 21, "titleFont": "DejaVu Sans", "titleFontSize": 29, "titlePadding": 8, "titleY": 177}}}},
    {"data": {"values": [{}]},
     "mark": {"type": "rule", "strokeWidth": 1.5, "color": "#9a9a9a"},
     "encoding": {"x": {"datum": -4}, "y": {"datum": -1000}, "y2": {"datum": 1500}}},
    {"data": {"name": "ptB"},
     "mark": {"type": "rule", "strokeWidth": 1.2},
     "encoding": {
       "x": {"field": "x", "type": "quantitative", "title": "Flash Intensity (log cd sec/m²)", "scale": {"domain": [-4, 3], "nice": false, "zero": false},
          "axis": {"values": [-4,-3,-2,-1,0,1,2,3], "tickCount": 100, "labelExpr": "toString(datum.value)", "tickSize": -10, "labelPadding": 20, "labelFontSize": 21, "titleFont": "DejaVu Sans", "titleFontSize": 28, "titlePadding": 15}},
       "y": {"field": "lo", "type": "quantitative", "title": "Amplitude (µV)"},
       "y2": {"field": "hi"},
       "color": {"field": "s", "type": "nominal", "scale": {"domain": ["red", "blue", "black"], "range": ["#f29a9a", "#8c8cff", "#6a6a6a"]}, "legend": null}
     }},
    {"data": {"name": "ptB"},
     "mark": {"type": "tick", "orient": "horizontal", "size": 7, "thickness": 1.2},
     "encoding": {
       "x": {"field": "x", "type": "quantitative", "title": "Flash Intensity (log cd sec/m²)"},
       "y": {"field": "hi", "type": "quantitative", "title": "Amplitude (µV)"},
       "color": {"field": "s", "type": "nominal", "scale": {"domain": ["red", "blue", "black"], "range": ["#f29a9a", "#8c8cff", "#6a6a6a"]}, "legend": null}
     }},
    {"data": {"name": "ptB"},
     "mark": {"type": "tick", "orient": "horizontal", "size": 7, "thickness": 1.2},
     "encoding": {
       "x": {"field": "x", "type": "quantitative", "title": "Flash Intensity (log cd sec/m²)"},
       "y": {"field": "lo", "type": "quantitative", "title": "Amplitude (µV)"},
       "color": {"field": "s", "type": "nominal", "scale": {"domain": ["red", "blue", "black"], "range": ["#f29a9a", "#8c8cff", "#6a6a6a"]}, "legend": null}
     }},
    {"data": {"name": "ptB"},
     "mark": {"type": "line", "strokeWidth": 1.8},
     "encoding": {
       "x": {"field": "x", "type": "quantitative", "title": "Flash Intensity (log cd sec/m²)"},
       "y": {"field": "y", "type": "quantitative", "title": "Amplitude (µV)"},
       "color": {"field": "s", "type": "nominal", "scale": {"domain": ["red", "blue", "black"], "range": ["#ff0000", "#0000ff", "#000000"]}, "legend": null},
       "detail": {"field": "w"}
     }},
    {"data": {"name": "ptB"},
     "mark": {"type": "circle", "size": 100, "opacity": 1},
     "encoding": {
       "x": {"field": "x", "type": "quantitative", "title": "Flash Intensity (log cd sec/m²)"},
       "y": {"field": "y", "type": "quantitative", "title": "Amplitude (µV)"},
       "color": {"field": "s", "type": "nominal", "scale": {"domain": ["red", "blue", "black"], "range": ["#ff0000", "#0000ff", "#000000"]}, "legend": null}
     }},
    {"data": {"name": "labB"},
     "mark": {"type": "text", "align": "center", "baseline": "alphabetic", "fontSize": 28, "font": "Liberation Sans"},
     "encoding": {
       "x": {"field": "x", "type": "quantitative", "title": "Flash Intensity (log cd sec/m²)"},
       "y": {"field": "y", "type": "quantitative", "title": "Amplitude (µV)"},
       "text": {"field": "t"}
     }}
   ]},
  {"title": {"text": "D", "dx": -45, "offset": 9},
   "width": 378, "height": 314,
   "resolve": {"scale": {"color": "independent"}},
   "layer": [
    {"data": {"name": "ptD"},
     "mark": {"type": "rule", "strokeWidth": 1.2},
     "encoding": {
       "x": {"field": "x", "type": "quantitative", "title": "Flash Intensity (log cd sec/m²)", "scale": {"domain": [-1, 2], "nice": false, "zero": false},
          "axis": {"values": [-1,-0.5,0,0.5,1,1.5,2], "tickCount": 100, "labelExpr": "toString(datum.value)", "tickSize": -10, "labelPadding": 20, "labelFontSize": 21, "titleFont": "DejaVu Sans", "titleFontSize": 28, "titlePadding": 18}},
       "y": {"field": "lo", "type": "quantitative", "title": "Amplitude (µV)", "scale": {"domain": [0, 500], "nice": false, "zero": false},
          "axis": {"values": [0,50,100,150,200,250,300,350,400,450,500], "tickCount": 100, "labelExpr": "datum.value % 100 === 0 ? datum.label : ''", "tickSize": -9, "labelPadding": 21, "labelFontSize": 21, "titleFont": "DejaVu Sans", "titleFontSize": 29, "titlePadding": 18}},
       "y2": {"field": "hi"},
       "color": {"field": "s", "type": "nominal", "scale": {"domain": ["red", "blue", "black"], "range": ["#f29a9a", "#8c8cff", "#6a6a6a"]}, "legend": null}
     }},
    {"data": {"name": "ptD"},
     "mark": {"type": "tick", "orient": "horizontal", "size": 7, "thickness": 1.2},
     "encoding": {
       "x": {"field": "x", "type": "quantitative", "title": "Flash Intensity (log cd sec/m²)"},
       "y": {"field": "hi", "type": "quantitative", "title": "Amplitude (µV)"},
       "color": {"field": "s", "type": "nominal", "scale": {"domain": ["red", "blue", "black"], "range": ["#f29a9a", "#8c8cff", "#6a6a6a"]}, "legend": null}
     }},
    {"data": {"name": "ptD"},
     "mark": {"type": "tick", "orient": "horizontal", "size": 7, "thickness": 1.2},
     "encoding": {
       "x": {"field": "x", "type": "quantitative", "title": "Flash Intensity (log cd sec/m²)"},
       "y": {"field": "lo", "type": "quantitative", "title": "Amplitude (µV)"},
       "color": {"field": "s", "type": "nominal", "scale": {"domain": ["red", "blue", "black"], "range": ["#f29a9a", "#8c8cff", "#6a6a6a"]}, "legend": null}
     }},
    {"data": {"name": "ptD"},
     "mark": {"type": "line", "strokeWidth": 1.8},
     "encoding": {
       "x": {"field": "x", "type": "quantitative", "title": "Flash Intensity (log cd sec/m²)"},
       "y": {"field": "y", "type": "quantitative", "title": "Amplitude (µV)"},
       "color": {"field": "s", "type": "nominal", "scale": {"domain": ["red", "blue", "black"], "range": ["#ff0000", "#0000ff", "#000000"]}, "legend": null}
     }},
    {"data": {"name": "ptD"},
     "mark": {"type": "circle", "size": 100, "opacity": 1},
     "encoding": {
       "x": {"field": "x", "type": "quantitative", "title": "Flash Intensity (log cd sec/m²)"},
       "y": {"field": "y", "type": "quantitative", "title": "Amplitude (µV)"},
       "color": {"field": "s", "type": "nominal", "scale": {"domain": ["red", "blue", "black"], "range": ["#ff0000", "#0000ff", "#000000"]}, "legend": null}
     }}
   ]}
 ]}
]
}
